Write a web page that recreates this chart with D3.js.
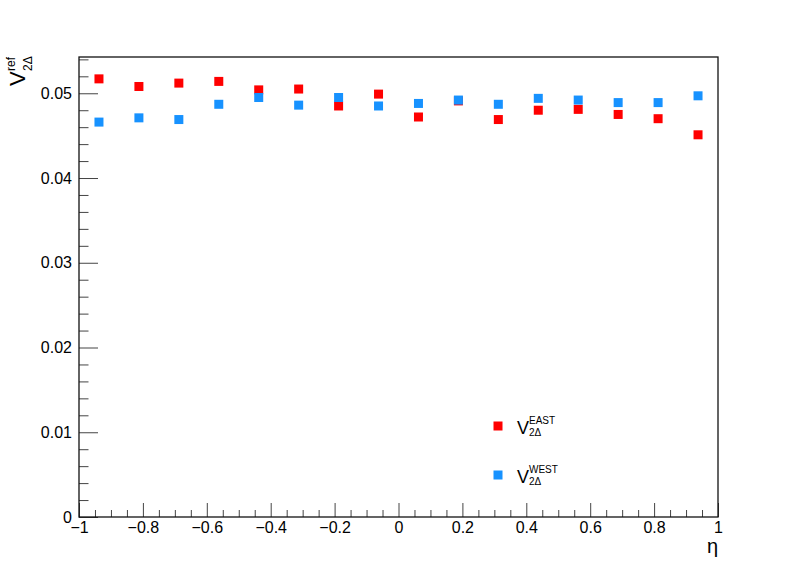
<!DOCTYPE html>
<html>
<head>
<meta charset="utf-8">
<script src="https://cdn.jsdelivr.net/npm/d3@7"></script>
<style>
  body { margin: 0; background: #fff; }
  text { font-family: "Liberation Sans", Arial, sans-serif; fill: #000; }
</style>
</head>
<body>
<div id="chart"></div>
<script>
// eta bin centres and v2 values for the two sides
var eta = [-0.9375, -0.8125, -0.6875, -0.5625, -0.4375, -0.3125, -0.1875, -0.0625,
           0.0625, 0.1875, 0.3125, 0.4375, 0.5625, 0.6875, 0.8125, 0.9375];
var v2East = [0.0517, 0.0508, 0.0512, 0.0514, 0.0504, 0.0505, 0.0485, 0.0499,
              0.0472, 0.0491, 0.0469, 0.0480, 0.0481, 0.0475, 0.0470, 0.0451];
var v2West = [0.0466, 0.0471, 0.0469, 0.0487, 0.0495, 0.0486, 0.0495, 0.0485,
              0.0488, 0.0492, 0.0487, 0.0494, 0.0492, 0.0489, 0.0489, 0.0497];
var xMajor = [-1, -0.8, -0.6, -0.4, -0.2, 0, 0.2, 0.4, 0.6, 0.8, 1];
var yMajor = [0, 0.01, 0.02, 0.03, 0.04, 0.05];

var width = 798, height = 575;
var frame = {left: 79, right: 718, top: 57, bottom: 517};

var x = d3.scaleLinear().domain([-1, 1]).range([frame.left, frame.right]);
var y = d3.scaleLinear().domain([0, 0.05428]).range([frame.bottom, frame.top]);

var svg = d3.select("#chart")
    .append("svg")
    .attr("width", width)
    .attr("height", height);

var fmt = d3.format("~g");

// minor ticks
var xMinor = d3.range(-1, 1.0001, 0.05).filter(function(d){
    return Math.abs(Math.round(d*5) - d*5) > 1e-6; });
var yMinor = d3.range(0, 0.0543, 0.002).filter(function(d){
    return Math.abs(Math.round(d*100) - d*100) > 1e-6; });

svg.append("g")
    .attr("transform", "translate(0," + frame.bottom + ")")
    .call(d3.axisBottom(x).tickValues(xMinor).tickSize(-7).tickFormat(""))
    .call(function(g){ g.select(".domain").remove(); });

svg.append("g")
    .attr("transform", "translate(" + frame.left + ",0)")
    .call(d3.axisLeft(y).tickValues(yMinor).tickSize(-9.5).tickFormat(""))
    .call(function(g){ g.select(".domain").remove(); });

// Add the X Axis
svg.append("g")
    .attr("class", "x axis")
    .attr("transform", "translate(0," + frame.bottom + ")")
    .call(d3.axisBottom(x).tickValues(xMajor).tickSize(-14).tickPadding(5).tickFormat(fmt))
    .call(function(g){
        g.select(".domain").remove();
        g.selectAll("text").style("font-size", "16px");
    });

// Add the Y Axis
svg.append("g")
    .attr("class", "y axis")
    .attr("transform", "translate(" + frame.left + ",0)")
    .call(d3.axisLeft(y).tickValues(yMajor).tickSize(-19).tickPadding(7).tickFormat(fmt))
    .call(function(g){
        g.select(".domain").remove();
        g.selectAll("text").style("font-size", "16px");
    });

svg.selectAll(".tick line").attr("stroke", "#444");

// frame
svg.append("rect")
    .attr("x", frame.left)
    .attr("y", frame.top)
    .attr("width", frame.right - frame.left)
    .attr("height", frame.bottom - frame.top)
    .attr("fill", "none")
    .attr("stroke", "#111")
    .attr("stroke-width", 1.3);

var ms = 9;
function drawSeries(vals, color) {
    svg.append("g").selectAll("rect")
        .data(vals)
        .enter().append("rect")
        .attr("x", function(d, i){ return x(eta[i]) - ms/2; })
        .attr("y", function(d){ return y(d) - ms/2; })
        .attr("width", ms)
        .attr("height", ms)
        .attr("fill", color);
}
drawSeries(v2East, "#ff0000");
drawSeries(v2West, "#1792ff");

// legend
var legend = [{label: "EAST", color: "#ff0000", yy: 426},
              {label: "WEST", color: "#1792ff", yy: 475}];
legend.forEach(function(l){
    svg.append("rect")
        .attr("x", 498 - ms/2).attr("y", l.yy - ms/2)
        .attr("width", ms).attr("height", ms)
        .attr("fill", l.color);
    svg.append("text").attr("x", 517).attr("y", l.yy + 8)
        .style("font-size", "18px").text("V");
    svg.append("text").attr("x", 529).attr("y", l.yy - 2)
        .style("font-size", "10px").text(l.label);
    svg.append("text").attr("x", 529).attr("y", l.yy + 10)
        .style("font-size", "10px").text("2\u0394");
});

// axis titles
svg.append("text")
    .attr("x", 718).attr("y", 553)
    .attr("text-anchor", "end")
    .style("font-size", "20px")
    .text("\u03b7");

var yt = svg.append("g").attr("transform", "translate(25,86) rotate(-90)");
yt.append("text").attr("x", 0).attr("y", 0).style("font-size", "22px").text("V");
yt.append("text").attr("x", 15).attr("y", -10).style("font-size", "12px").text("ref");
yt.append("text").attr("x", 15).attr("y", 7).style("font-size", "12px").text("2\u0394");
</script>
</body>
</html>
